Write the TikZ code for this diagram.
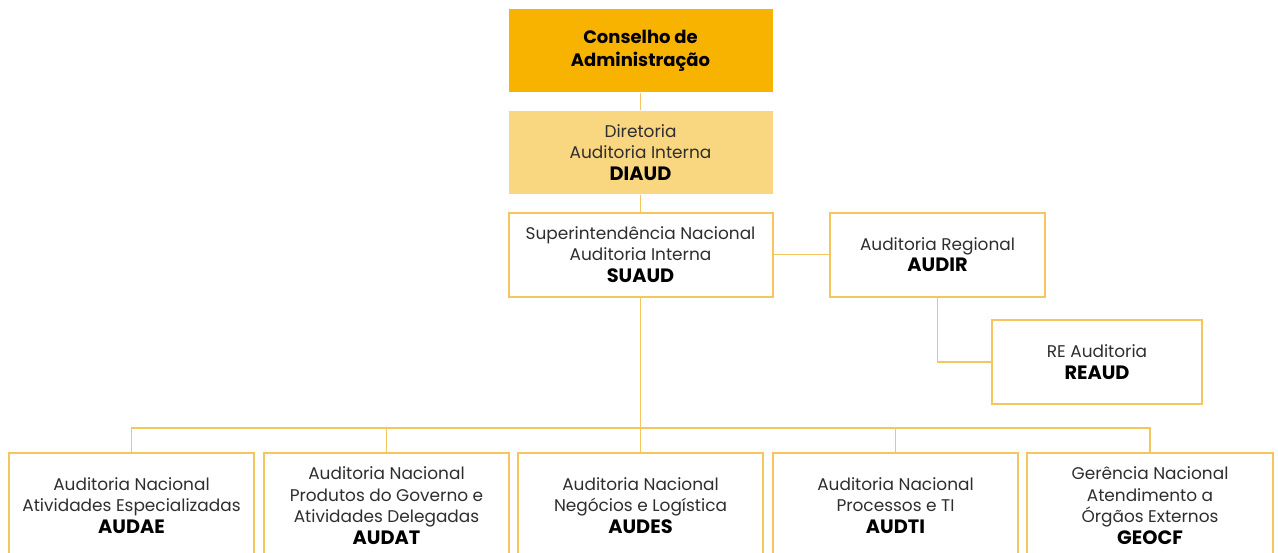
\documentclass[tikz,border=0pt]{standalone}
\usepackage{fontspec}
\setmainfont{Poppins}
\usepackage{xcolor}
\definecolor{gold}{HTML}{F8B200}
\definecolor{lightgold}{HTML}{F9D680}
\definecolor{linegold}{HTML}{F6C65E}
\definecolor{txtgray}{HTML}{2E2E2E}
\usetikzlibrary{scopes}

\newcommand{\unitcode}[1]{\textcolor{black}{\fontsize{14.5}{16.1}\selectfont\bfseries #1}}

\tikzset{
	unit/.style={draw=linegold, line width=1.5pt, fill=white, align=center, text=txtgray,
		font=\fontsize{12.7}{16.1}\selectfont, inner sep=2pt},
	topbox/.style={unit, draw=none, fill=gold, text=black, font=\fontsize{13.5}{17}\selectfont\bfseries},
	dirbox/.style={unit, draw=none, fill=lightgold},
	link/.style={draw=linegold, line width=1.4pt}
}

\begin{document}
\begin{tikzpicture}[x=0.75pt, y=-0.75pt]
	\useasboundingbox (0,0) rectangle (1278,553);
	\clip (0,0) rectangle (1278,553);
	% top of the chart
	\node[topbox, minimum width=198pt, minimum height=62.5pt] (cons) at (640.5,50.5) {Conselho de\\Administração};
	\node[dirbox, minimum width=198pt, minimum height=62.5pt] (diaud) at (640.5,152.5) {Diretoria\\Auditoria Interna\\\unitcode{DIAUD}};
	\node[unit, minimum width=198pt, minimum height=63pt] (suaud) at (640.5,254.5) {Superintendência Nacional\\Auditoria Interna\\\unitcode{SUAUD}};
	\node[unit, minimum width=161pt, minimum height=63pt] (audir) at (937.5,254.5) {Auditoria Regional\\\unitcode{AUDIR}};
	\node[unit, minimum width=157pt, minimum height=63pt] (reaud) at (1097,362) {RE Auditoria\\\unitcode{REAUD}};
	
	% national units
	\node[unit, minimum width=184pt, minimum height=79pt] (audae) at (131.5,505.5) {Auditoria Nacional\\Atividades Especializadas\\\unitcode{AUDAE}};
	\node[unit, minimum width=184pt, minimum height=79pt] (audat) at (386.5,505.5) {Auditoria Nacional\\Produtos do Governo e\\Atividades Delegadas\\\unitcode{AUDAT}};
	\node[unit, minimum width=184pt, minimum height=79pt] (audes) at (640.5,505.5) {Auditoria Nacional\\Negócios e Logística\\\unitcode{AUDES}};
	\node[unit, minimum width=184pt, minimum height=79pt] (audti) at (895.5,505.5) {Auditoria Nacional\\Processos e TI\\\unitcode{AUDTI}};
	\node[unit, minimum width=184pt, minimum height=79pt] (geocf) at (1150,505.5) {Gerência Nacional\\Atendimento a\\Órgãos Externos\\\unitcode{GEOCF}};
	
	\coordinate (bus) at (640.5,428);
	
	\draw[link] (cons.south) -- (diaud.north);
	\draw[link] (diaud.south) -- (suaud.north);
	\draw[link] (suaud.east) -- (audir.west);
	\draw[link] (audir.south) |- (reaud.west);
	\draw[link] (suaud.south) -- (bus);
	\draw[link] (audae.north) |- (bus) -| (geocf.north);
	\draw[link] (audat.north) -- (audat.north |- bus);
	\draw[link] (audes.north) -- (bus);
	\draw[link] (audti.north) -- (audti.north |- bus);
\end{tikzpicture}
\end{document}
